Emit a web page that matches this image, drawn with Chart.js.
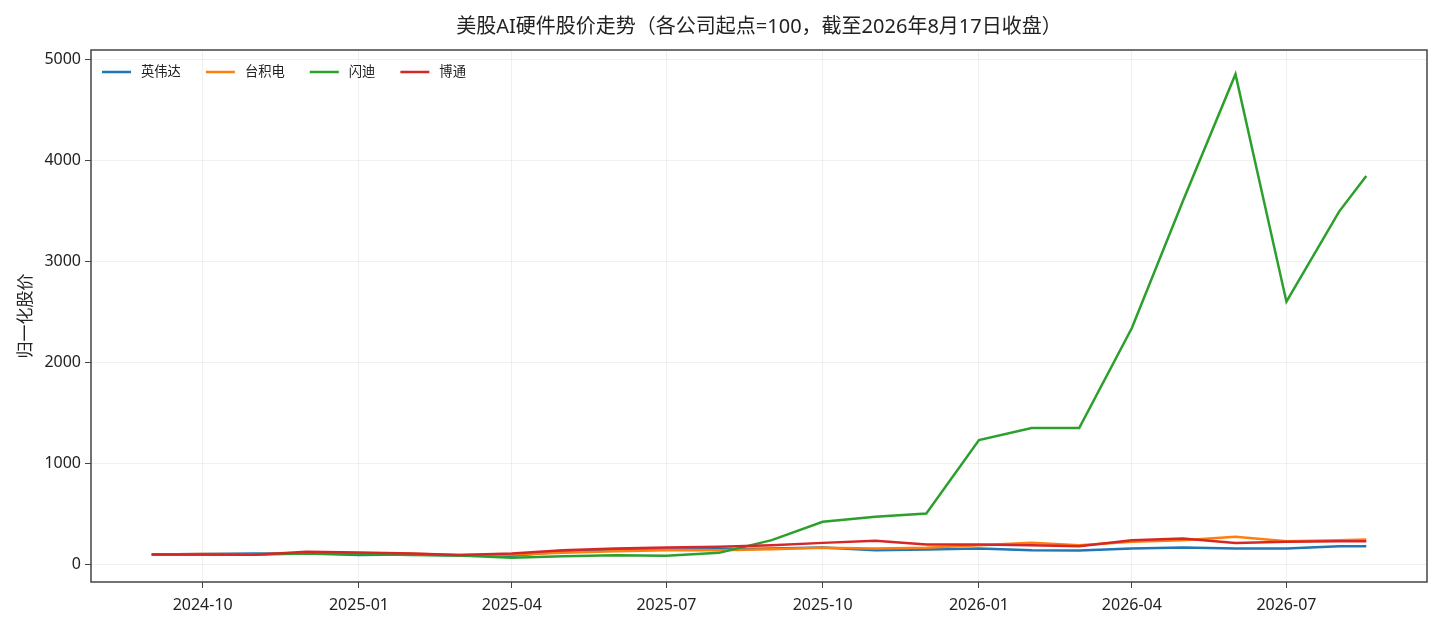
<!DOCTYPE html>
<html>
<head>
<meta charset="utf-8">
<script src="https://cdn.jsdelivr.net/npm/chart.js@4/dist/chart.umd.min.js"></script>
<style>
  html, body { margin: 0; padding: 0; background: #ffffff; }
  #wrap { width: 1439px; height: 629px; }
</style>
</head>
<body>
<div id="wrap"><canvas id="chart"></canvas></div>
<script>
// Sample dates (month starts, plus the last close)
const DATES = [
    '2024-09-01', '2024-10-01', '2024-11-01', '2024-12-01',
    '2025-01-01', '2025-02-01', '2025-03-01', '2025-04-01',
    '2025-05-01', '2025-06-01', '2025-07-01', '2025-08-01',
    '2025-09-01', '2025-10-01', '2025-11-01', '2025-12-01',
    '2026-01-01', '2026-02-01', '2026-03-01', '2026-04-01',
    '2026-05-01', '2026-06-01', '2026-07-01', '2026-08-01',
    '2026-08-17'
];

const SERIES_NAMES = ['英伟达', '台积电', '闪迪', '博通'];
const SERIES_COLORS = ['#1f77b4', '#ff7f0e', '#2ca02c', '#d62728'];

const NVDA = [100, 105, 112, 110, 97, 100, 90, 88, 127, 144, 150, 154, 160, 170, 144, 150, 160, 144, 140, 160, 170, 160, 160, 183, 183];
const TSM  = [100, 105, 103, 110, 110, 108, 97, 100, 117, 134, 144, 144, 154, 167, 160, 167, 193, 216, 193, 226, 243, 276, 233, 243, 250];
const SNDK = [100, 102, 100, 112, 105, 96, 92, 68, 84, 94, 88, 117, 243, 425, 474, 507, 1234, 1353, 1353, 2344, 3600, 4858, 2605, 3497, 3850];
const AVGO = [100, 100, 98, 127, 121, 111, 97, 111, 144, 160, 170, 177, 193, 216, 236, 200, 200, 193, 183, 243, 260, 216, 226, 233, 233];

const X_TICKS = ['2024-10', '2025-01', '2025-04', '2025-07', '2025-10', '2026-01', '2026-04', '2026-07'];
const Y_TICKS = [0, 1000, 2000, 3000, 4000, 5000];

const TITLE = '美股AI硬件股价走势（各公司起点=100，截至2026年8月17日收盘）';
const Y_LABEL = '归一化股价';

const FONT = '"Noto Sans", "Noto Sans CJK SC", sans-serif';

function toTs(s) {
    return Date.parse(s.length === 7 ? s + '-01T00:00:00Z' : s + 'T00:00:00Z');
}

function formatMonth(ts) {
    const d = new Date(ts);
    const m = String(d.getUTCMonth() + 1).padStart(2, '0');
    return d.getUTCFullYear() + '-' + m;
}

const allSeries = [NVDA, TSM, SNDK, AVGO];
const xs = DATES.map(toTs);

// matplotlib-like 5% margins
const xSpan = xs[xs.length - 1] - xs[0];
const xMin = xs[0] - 0.05 * xSpan;
const xMax = xs[xs.length - 1] + 0.05 * xSpan;
const flat = allSeries.flat();
const yLo = Math.min(...flat), yHi = Math.max(...flat);
const yMin = yLo - 0.05 * (yHi - yLo);
const yMax = yHi + 0.05 * (yHi - yLo);

const datasets = allSeries.map((values, i) => ({
    label: SERIES_NAMES[i],
    data: values.map((v, j) => ({ x: xs[j], y: v })),
    borderColor: SERIES_COLORS[i],
    backgroundColor: SERIES_COLORS[i],
    borderWidth: 2.5,
    pointRadius: 0,
    tension: 0,
    fill: false,
    order: allSeries.length - i
}));

// Title centred over the plot area (not the whole canvas)
const axesTitle = {
    id: 'axesTitle',
    afterDraw(chart) {
        const { ctx, chartArea } = chart;
        ctx.save();
        ctx.font = '20px ' + FONT;
        ctx.fillStyle = '#222';
        ctx.textAlign = 'center';
        ctx.textBaseline = 'middle';
        ctx.fillText(TITLE, (chartArea.left + chartArea.right) / 2, chartArea.top - 23);
        ctx.restore();
    }
};

// Legend drawn inside the plot, top-left, one row
const innerLegend = {
    id: 'innerLegend',
    afterDatasetsDraw(chart) {
        const { ctx, chartArea } = chart;
        ctx.save();
        ctx.font = '13.3px ' + FONT;
        ctx.textBaseline = 'middle';
        ctx.fillStyle = '#222';
        const y = chartArea.top + 22;
        let x = chartArea.left + 11;
        SERIES_NAMES.forEach((name, i) => {
            ctx.strokeStyle = SERIES_COLORS[i];
            ctx.lineWidth = 2.5;
            ctx.beginPath();
            ctx.moveTo(x, y);
            ctx.lineTo(x + 29, y);
            ctx.stroke();
            ctx.fillText(name, x + 39, y);
            x += 39 + ctx.measureText(name).width + 25;
        });
        ctx.restore();
    }
};

// Full box around the plot area
const frame = {
    id: 'frame',
    afterDraw(chart) {
        const { ctx, chartArea } = chart;
        ctx.save();
        ctx.strokeStyle = '#444';
        ctx.lineWidth = 1.5;
        ctx.strokeRect(chartArea.left, chartArea.top,
            chartArea.right - chartArea.left, chartArea.bottom - chartArea.top);
        ctx.restore();
    }
};

new Chart(document.getElementById('chart'), {
    type: 'line',
    data: { datasets },
    plugins: [innerLegend, frame, axesTitle],
    options: {
        responsive: true,
        maintainAspectRatio: false,
        animation: false,
        devicePixelRatio: 1,
        layout: { padding: { left: 0, right: 12, top: 50, bottom: 0 } },
        plugins: {
            legend: { display: false },
            tooltip: { enabled: false },
            title: { display: false }
        },
        scales: {
            x: {
                type: 'linear',
                min: xMin,
                max: xMax,
                afterBuildTicks: (scale) => {
                    scale.ticks = X_TICKS.map(t => ({ value: toTs(t) }));
                },
                afterFit: (scale) => { scale.height = 47; },
                ticks: {
                    color: '#222',
                    font: { family: FONT, size: 16 },
                    padding: 8,
                    maxRotation: 0,
                    autoSkip: false,
                    callback: (v) => formatMonth(v)
                },
                grid: {
                    color: 'rgba(0,0,0,0.06)',
                    tickColor: '#444',
                    tickLength: 6,
                    lineWidth: 1
                },
                border: { display: false }
            },
            y: {
                type: 'linear',
                min: yMin,
                max: yMax,
                afterBuildTicks: (scale) => {
                    scale.ticks = Y_TICKS.map(v => ({ value: v }));
                },
                afterFit: (scale) => { scale.width = 91; },
                ticks: {
                    color: '#222',
                    font: { family: FONT, size: 16 },
                    padding: 4,
                    callback: (v) => String(v)
                },
                grid: {
                    color: 'rgba(0,0,0,0.06)',
                    tickColor: '#444',
                    tickLength: 6,
                    lineWidth: 1
                },
                border: { display: false },
                title: {
                    display: true,
                    text: Y_LABEL,
                    color: '#222',
                    font: { family: FONT, size: 17 },
                    padding: { top: 16, bottom: 0 }
                }
            }
        }
    }
});
</script>
</body>
</html>
